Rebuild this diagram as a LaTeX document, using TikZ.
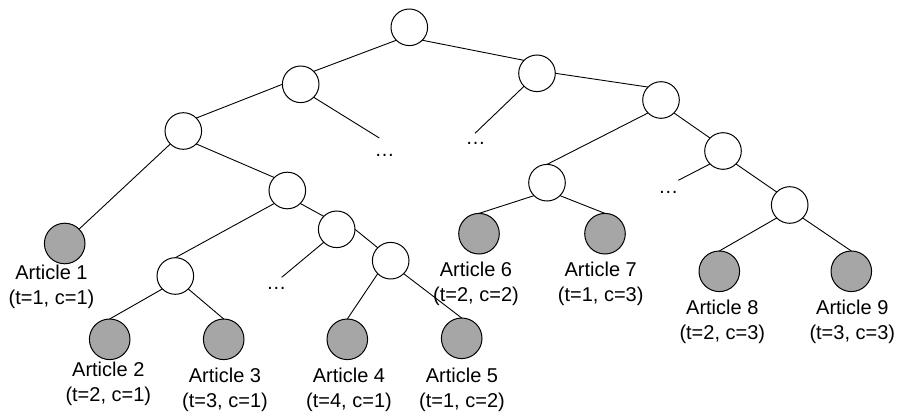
\documentclass[tikz,border=0pt]{standalone}
\usepackage{fontspec}
\setmainfont{Liberation Sans}
\begin{document}
\begin{tikzpicture}[x=1pt,y=-1pt,
  inner/.style={circle,draw=black,fill=white,line width=1pt,minimum size=36.6pt,inner sep=0pt,outer sep=0pt},
  leaf/.style={circle,draw=black,fill=black!35,line width=1pt,minimum size=40.6pt,inner sep=0pt,outer sep=0pt},
  lbl/.style={align=center,anchor=base,inner sep=0pt,font=\fontsize{20}{25}\selectfont},
  dots/.style={anchor=base,inner sep=0pt,font=\fontsize{20}{25}\selectfont},
  edge/.style={line width=0.9pt}]
\useasboundingbox (0,0) rectangle (898,412);
% internal nodes
\node[inner] (root) at (409.3,27.3) {};
\node[inner] (L1) at (300.7,84.3) {};
\node[inner] (R1) at (537,73.3) {};
\node[inner] (LL) at (183.3,131) {};
\node[inner] (LLR) at (287.3,190.5) {};
\node[inner] (LLRL) at (175.3,276) {};
\node[inner] (LLRR) at (336.7,229.3) {};
\node[inner] (LLRRR) at (390.7,260.7) {};
\node[inner] (R1R) at (661,100) {};
\node[inner] (R1RL) at (547,182.7) {};
\node[inner] (R1RR) at (723,151) {};
\node[inner] (R1RRR) at (789.7,205) {};
% leaves
\node[leaf] (A1) at (64.7,243.5) {};
\node[leaf] (A2) at (109.7,339.3) {};
\node[leaf] (A3) at (223.7,339.3) {};
\node[leaf] (A4) at (347.3,339.3) {};
\node[leaf] (A5) at (461.7,338.3) {};
\node[leaf] (A6) at (479,233.7) {};
\node[leaf] (A7) at (605,233.7) {};
\node[leaf] (A8) at (719.3,271.3) {};
\node[leaf] (A9) at (851.3,271.3) {};
% labels (base = baseline of the second line)
\node[lbl] (T1) at (51.5,304.3) {Article 1\\(t=1, c=1)};
\node[lbl] (T2) at (108.3,401.7) {Article 2\\(t=2, c=1)};
\node[lbl] (T3) at (225,407.7) {Article 3\\(t=3, c=1)};
\node[lbl] (T4) at (349,407.7) {Article 4\\(t=4, c=1)};
\node[lbl] (T5) at (462,407.7) {Article 5\\(t=1, c=2)};
\node[lbl] (T6) at (476,301) {Article 6\\(t=2, c=2)};
\node[lbl] (T7) at (600.7,301) {Article 7\\(t=1, c=3)};
\node[lbl] (T8) at (722.3,339) {Article 8\\(t=2, c=3)};
\node[lbl] (T9) at (852.3,339) {Article 9\\(t=3, c=3)};
% dots
\node[dots] (D1) at (384.5,157) {…};
\node[dots] (D2) at (475.7,144.3) {…};
\node[dots] (D3) at (276.3,289.3) {…};
\node[dots] (D4) at (668.3,193.3) {…};
% free ends
\coordinate (E1) at (379.3,138);
\coordinate (E2) at (475,133.3);
\coordinate (E3) at (281.7,277.3);
\coordinate (E4) at (678.3,180.3);
% edges
\draw[edge] (root.south west) -- (L1.north east);
\draw[edge] (root.south east) -- (R1.north west);
\draw[edge] (L1.west) -- (LL.north east);
\draw[edge] (L1.south east) -- (E1);
\draw[edge] (LL.south west) -- (A1.north east);
\draw[edge] (LL.south east) -- (LLR.north west);
\draw[edge] (LLR.south west) -- (LLRL.north);
\draw[edge] (LLR.south east) -- (LLRR.north west);
\draw[edge] (LLRL.south west) -- (A2.north);
\draw[edge] (LLRL.south east) -- (A3.north);
\draw[edge] (LLRR.south west) -- (E3);
\draw[edge] (LLRR.east) -- (LLRRR.north west);
\draw[edge] (LLRRR.south west) -- (A4.north);
\draw[edge] (LLRRR.south east) -- (A5.north);
\draw[edge] (R1.south west) -- (E2);
\draw[edge] (R1.east) -- (R1R.north west);
\draw[edge] (R1R.south west) -- (R1RL.north);
\draw[edge] (R1R.south east) -- (R1RR.north west);
\draw[edge] (R1RL.south west) -- (A6.north);
\draw[edge] (R1RL.south east) -- (A7.north);
\draw[edge] (R1RR.south west) -- (E4);
\draw[edge] (R1RR.south east) -- (R1RRR.north west);
\draw[edge] (R1RRR.south west) -- (A8.north);
\draw[edge] (R1RRR.south east) -- (A9.north);
\end{tikzpicture}
\end{document}
